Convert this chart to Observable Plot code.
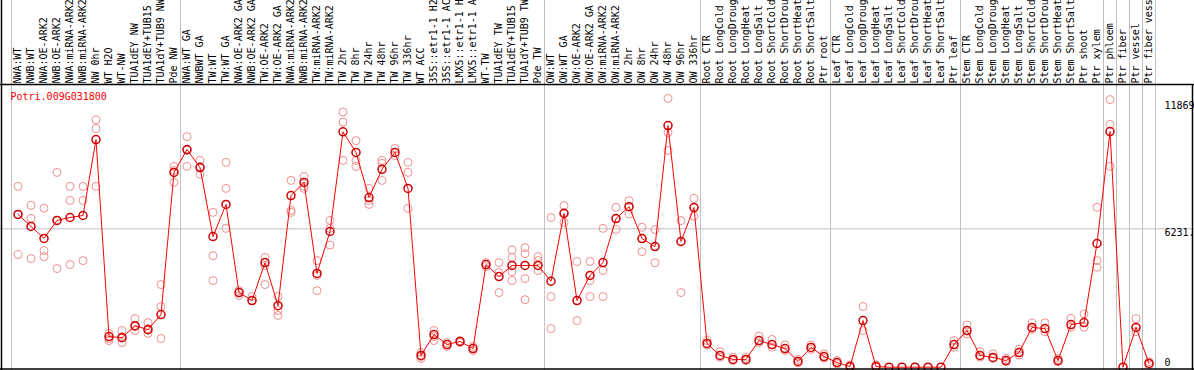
<!DOCTYPE html>
<html><head><meta charset="utf-8">
<script src="https://cdn.jsdelivr.net/npm/d3@7"></script>
<script src="https://cdn.jsdelivr.net/npm/@observablehq/plot@0.6"></script>
<style>
html,body{margin:0;padding:0;background:#fff;}
#chart svg{display:block;}
</style>
</head><body><div id="chart"></div>
<script>
const geneId = "Potri.009G031800";
const labels = [
 "NWA:WT","NWB:WT","NWA:OE-ARK2","NWB:OE-ARK2","NWA:miRNA-ARK2","NWB:miRNA-ARK2","NW 0hr","WT H2O","WT-NW","TUA1dEY NW","TUA1dEY+TUB15","TUA1dY+TUB9 NW","Pde NW",
 "NWA:WT GA","NWBWT GA","TW:WT","TW:WT GA","NWA:OE-ARK2 GA","NWB:OE-ARK2 GA","TW:OE-ARK2","TW:OE-ARK2 GA","NWA:miRNA-ARK2","NWB:miRNA-ARK2","TW:miRNA-ARK2","TW:miRNA-ARK2","TW 2hr","TW 8hr","TW 24hr","TW 48hr","TW 96hr","TW 336hr","WT ACC","35S::etr1-1 H2O","35S::etr1-1 ACC","LMX5::etr1-1 H2O","LMX5::etr1-1 ACC","WT-TW","TUA1dEY TW","TUA1dEY+TUB15","TUA1dY+TUB9 TW","Pde TW",
 "OW:WT","OW:WT GA","OW:OE-ARK2","OW:OE-ARK2 GA","OW:miRNA-ARK2","OW:miRNA-ARK2","OW 2hr","OW 8hr","OW 24hr","OW 48hr","OW 96hr","OW 336hr",
 "Root CTR","Root LongCold","Root LongDrought","Root LongHeat","Root LongSalt","Root ShortCold","Root ShortDrought","Root ShortHeat","Root ShortSalt","Ptr root",
 "Leaf CTR","Leaf LongCold","Leaf LongDrought","Leaf LongHeat","Leaf LongSalt","Leaf ShortCold","Leaf ShortDrought","Leaf ShortHeat","Leaf ShortSalt","Ptr leaf",
 "Stem CTR","Stem LongCold","Stem LongDrought","Stem LongHeat","Stem LongSalt","Stem ShortCold","Stem ShortDrought","Stem ShortHeat","Stem ShortSalt","Ptr shoot","Ptr xylem",
 "Ptr phloem","Ptr fiber","Ptr vessel","Ptr fiber vessel"
];
const groupSizes = [13, 28, 12, 10, 10, 11, 1, 1, 1, 1];
const means = [
 6880,6340,5800,6610,6740,6830,10250,1380,1330,1870,1690,2370,8770,
 9800,8990,5880,7330,3360,3000,4710,2770,7730,8320,4220,6110,10600,9670,7640,8910,9670,8050,530,1470,1020,1160,840,4620,4080,4580,4580,4580,
 3870,6920,3000,4130,4710,6690,7230,5790,5430,10880,5660,7190,
 1070,530,350,350,1200,1020,840,260,890,480,
 210,30,2100,30,0,0,0,0,0,1020,
 1650,530,440,300,660,1790,1740,300,1920,2010,5570,
 10610,0,1790,170
];
const rep1 = [
 8140,7290,7160,8770,8140,8140,11140,1520,1650,2190,2010,3720,9040,
 10380,9310,6970,9220,3450,3180,4940,3180,8410,8590,4800,6610,11490,10200,8050,9310,9850,9220,660,1650,1110,1200,930,4710,4710,5290,5380,4980,
 6740,7280,4760,4760,6250,7200,7500,6300,6200,12100,6600,7600,
 1200,700,450,450,1400,1250,1000,350,1000,600,
 300,100,2730,100,null,null,null,null,null,1200,
 1900,700,600,400,800,2000,2000,400,2200,2400,7200,
 12050,null,2190,250
];
const rep2 = [
 6880,6700,5250,6610,7510,7510,10740,1290,1380,1830,1740,2730,8860,
 9760,9040,5020,8050,3230,3000,4580,2550,7060,8140,4130,6250,11040,9310,7510,9180,9530,8770,480,1380,930,1110,750,4530,4260,4940,5110,4800,
 3180,6970,3000,3900,4350,6690,7230,5790,5430,10570,5660,7190,
 1000,450,300,300,1100,900,750,200,800,400,
 150,0,1650,0,null,null,null,null,null,900,
 1500,450,400,250,550,1700,1600,250,1800,1800,4800,
 10930,null,1600,100
];
const rep3 = [
 5070,4890,4980,4440,4620,4800,8140,1200,1110,1650,1520,1290,8320,
 9040,8680,3900,6250,null,null,3720,2330,6970,8050,3450,5500,9310,9040,7330,8410,null,7150,390,1200,null,null,null,null,3360,4300,3990,4350,
 1740,6520,2100,3180,3180,6200,6900,5200,4700,9760,3360,6800,
 null,null,null,null,null,null,null,null,null,null,
 null,null,null,null,null,null,null,null,null,null,
 null,null,null,null,null,null,null,null,null,null,4500,
 9040,null,null,null
];
const rep4 = [
 null,null,null,null,null,null,null,null,null,null,null,null,null,
 null,null,null,null,null,null,null,null,null,null,null,null,null,null,null,null,null,null,null,null,null,null,null,null,null,3900,3040,null,
 null,null,null,null,null,null,null,null,null,null,null,null,
 null,null,null,null,null,null,null,null,null,null,
 null,null,null,null,null,null,null,null,null,null,
 null,null,null,null,null,null,null,null,null,null,null,
 null,null,null,null
];
const yTicks = [11869, 6231, 0];
const yTickText = ["11869", "6231.", "0"];

const idx = labels.map((l, i) => i);
const meanData = idx.map(i => ({i, value: means[i]}));
const repData = [];
[rep1, rep2, rep3, rep4].forEach(r => r.forEach((v, i) => { if (v != null) repData.push({i, value: v}); }));
const sepLeft = [];
let acc = 0;
groupSizes.forEach(n => { sepLeft.push(acc); acc += n; });
const sepRight = [labels.length - 1];

const W = 1194, H = 370;
const font = "DejaVu Sans Mono, monospace";
const plot = Plot.plot({
  width: W, height: H,
  marginTop: 0, marginBottom: 0, marginLeft: 0, marginRight: 0,
  style: {fontFamily: font, fontSize: "10px", background: "#fff", overflow: "hidden"},
  x: {type: "band", domain: idx, range: [10.5, 1155.5], padding: 0, axis: null},
  y: {domain: [0, 11869], range: [366.7, 103.1], axis: null},
  marks: [
    Plot.ruleY([yTicks[1]], {stroke: "#c0c0c0", strokeWidth: 1}),
    Plot.ruleX(sepLeft, {x: d => d, dx: -6.5, stroke: "#c0c0c0", strokeWidth: 1}),
    Plot.ruleX(sepRight, {x: d => d, dx: 6.5, stroke: "#c0c0c0", strokeWidth: 1}),
    Plot.text(idx, {x: d => d, text: d => labels[d], frameAnchor: "top", dy: 83, rotate: -90, textAnchor: "start", lineAnchor: "middle", fill: "#000", fontSize: 10}),
    Plot.text([geneId], {frameAnchor: "top-left", dx: 10, dy: 96, textAnchor: "start", lineAnchor: "middle", fill: "#ff0000", fontSize: 10}),
    Plot.dot(repData, {x: "i", y: "value", r: 4, stroke: "#f09090", strokeWidth: 1, fill: "none"}),
    Plot.line(meanData, {x: "i", y: "value", stroke: "#ff0000", strokeWidth: 1}),
    Plot.dot(meanData, {x: "i", y: "value", r: 4, stroke: "#cc0000", strokeWidth: 1.5, fill: "none"}),
    Plot.text([0], {y: d => yTicks[0], text: d => yTickText[0], frameAnchor: "right", dx: -30, dy: 2.6, textAnchor: "start", lineAnchor: "middle", fill: "#000", fontSize: 10}),
    Plot.text([1], {y: d => yTicks[1], text: d => yTickText[1], frameAnchor: "right", dx: -30, dy: 4.4, textAnchor: "start", lineAnchor: "middle", fill: "#000", fontSize: 10}),
    Plot.text([2], {y: d => yTicks[2], text: d => yTickText[2], frameAnchor: "right", dx: -30, dy: -4.4, textAnchor: "start", lineAnchor: "middle", fill: "#000", fontSize: 10})
  ]
});
const svg = d3.select(plot);
const deco = svg.append("g").attr("stroke", "#000").attr("stroke-width", 1.5);
deco.append("line").attr("x1", 0).attr("x2", W).attr("y1", 84.5).attr("y2", 84.5);
deco.append("line").attr("x1", 0).attr("x2", W).attr("y1", 369).attr("y2", 369);
deco.append("line").attr("x1", 1.5).attr("x2", 1.5).attr("y1", 0).attr("y2", H);
deco.append("line").attr("x1", 1192.5).attr("x2", 1192.5).attr("y1", 84).attr("y2", H);
document.getElementById("chart").appendChild(plot);
</script>
</body></html>
